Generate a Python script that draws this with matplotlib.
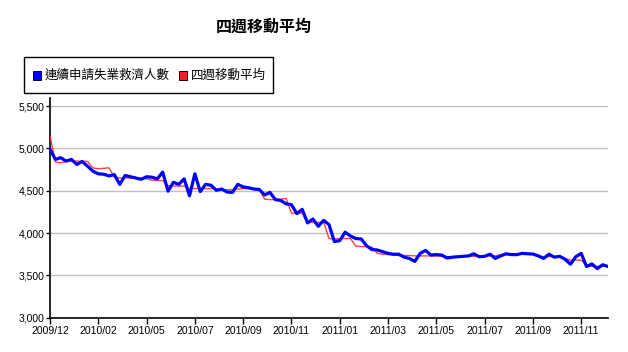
import matplotlib
matplotlib.use("Agg")
import matplotlib.pyplot as plt
from matplotlib.patches import Rectangle
import numpy as np

title = "四週移動平均"
series_names = ["連續申請失業救濟人數", "四週移動平均"]

tick_labels = ["2009/12", "2010/02", "2010/05", "2010/07", "2010/09", "2010/11",
               "2011/01", "2011/03", "2011/05", "2011/07", "2011/09", "2011/11"]

continuing_claims = [
    4990, 4870, 4890, 4850, 4870, 4810, 4845, 4790, 4730, 4700,
    4695, 4675, 4690, 4575, 4680, 4665, 4650, 4635, 4665, 4660,
    4640, 4720, 4495, 4600, 4575, 4640, 4440, 4700, 4490, 4575,
    4565, 4505, 4520, 4485, 4480, 4575, 4545, 4535, 4520, 4515,
    4450, 4480, 4395, 4385, 4345, 4335, 4230, 4280, 4120, 4165,
    4080, 4150, 4100, 3900, 3910, 4010, 3965, 3935, 3930, 3850,
    3805, 3800, 3780, 3760, 3750, 3750, 3715, 3700, 3665, 3760,
    3795, 3740, 3745, 3740, 3705, 3715, 3720, 3725, 3730, 3755,
    3720, 3725, 3750, 3700, 3730, 3755, 3745, 3745, 3760, 3755,
    3752, 3730, 3700, 3750, 3715, 3725, 3690, 3632, 3720, 3760,
    3605, 3635, 3580, 3625, 3605,
]

moving_avg = [
    5150, 4840, 4830, 4845, 4850, 4850, 4850, 4845, 4770, 4760,
    4765, 4770, 4660, 4650, 4650, 4650, 4650, 4650, 4640, 4625,
    4620, 4620, 4560, 4555, 4555, 4555, 4530, 4525, 4525, 4525,
    4525, 4520, 4515, 4510, 4515, 4520, 4525, 4525, 4525, 4520,
    4400, 4395, 4395, 4400, 4410, 4235, 4230, 4235, 4130, 4125,
    4125, 4130, 3935, 3930, 3935, 3935, 3935, 3845, 3840, 3840,
    3835, 3760, 3750, 3745, 3740, 3735, 3735, 3735, 3730, 3730,
    3730, 3730, 3730, 3725, 3720, 3720, 3720, 3725, 3725, 3725,
    3730, 3730, 3730, 3730, 3745, 3745, 3745, 3750, 3750, 3750,
    3750, 3725, 3722, 3722, 3725, 3720, 3700, 3680, 3680, 3680,
    3620, 3605, 3605, 3608, 3610,
]

y_ticks = [3000, 3500, 4000, 4500, 5000, 5500]
tick_step = 9

cjk = ["Noto Sans CJK TC", "DejaVu Sans"]
latin = ["Liberation Sans", "DejaVu Sans"]

fig = plt.figure(figsize=(6.28, 3.52), dpi=100)
ax = fig.add_axes([50/628, 1-317.7/352, 558/628, (317.7-97.6)/352])

x = np.arange(len(continuing_claims))
for yt in y_ticks[1:]:
    ax.axhline(yt, color="#c0c0c0", lw=1.0, zorder=1)
ax.plot(x, moving_avg, color="#ff2020", lw=1.0, zorder=3, alpha=0.85)
ax.plot(x, continuing_claims, color="#0000ff", lw=2.3, zorder=4,
        solid_joinstyle="round")

ax.set_xlim(0, len(continuing_claims) - 1)
ax.set_ylim(3000, 5600)
ax.set_yticks(y_ticks)
ax.set_yticklabels([f"{v:,}" for v in y_ticks], fontfamily=latin, fontsize=7.5)
ax.set_xticks(x[::tick_step][:len(tick_labels)])
ax.set_xticklabels(tick_labels, fontfamily=latin, fontsize=7.5)
ax.tick_params(axis="y", length=3, width=1, pad=1, colors="black")
ax.tick_params(axis="x", length=4, width=1, pad=2, colors="black")
for s in ["top", "right"]:
    ax.spines[s].set_visible(False)
for s in ["left", "bottom"]:
    ax.spines[s].set_linewidth(1.2)
    ax.spines[s].set_color("black")

fig.text(264/628, 1-27/352, title, ha="center", va="center",
         fontfamily=cjk, fontsize=11.5, fontweight="bold")

# legend box
fig.patches.append(Rectangle((24/628, 1-93/352), 249/628, 36/352,
                             transform=fig.transFigure, fill=False,
                             edgecolor="black", lw=1.0))
fig.patches.append(Rectangle((32.5/628, 1-79.5/352), 8/628, 9/352,
                             transform=fig.transFigure, facecolor="#0000ff",
                             edgecolor="black", lw=0.7))
fig.text(45/628, 1-75/352, series_names[0], ha="left", va="center",
         fontfamily=cjk, fontsize=9)
fig.patches.append(Rectangle((178.5/628, 1-79.5/352), 8/628, 9/352,
                             transform=fig.transFigure, facecolor="#ee2222",
                             edgecolor="black", lw=0.7))
fig.text(191/628, 1-75/352, series_names[1], ha="left", va="center",
         fontfamily=cjk, fontsize=9)

fig.savefig("out.png", dpi=100)
